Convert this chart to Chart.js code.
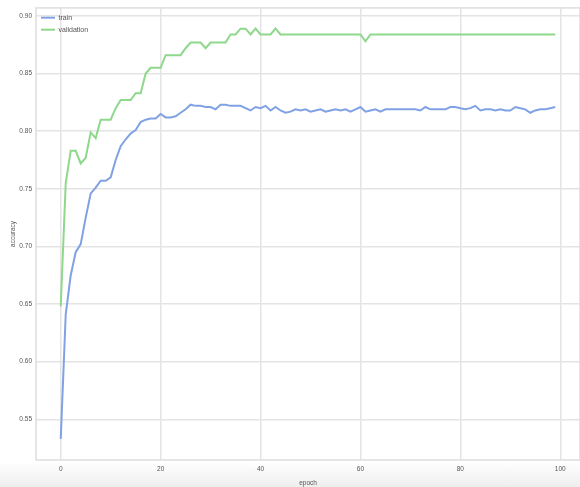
<!DOCTYPE html>
<html>
<head>
    <meta charset="UTF-8">
    <title>accuracy</title>
    <script src="https://cdn.jsdelivr.net/npm/chart.js"></script>
    <style>
        html, body { margin: 0; padding: 0; }
        body { width: 580px; height: 487px; background: linear-gradient(to bottom, #ffffff 0px, #ffffff 462px, #eeeeee 487px); }
        #wrap { width: 580px; height: 487px; position: relative; }
    </style>
</head>
<body>
<div id="wrap"><canvas id="accChart"></canvas></div>
<script>
    // epochs 0..99
    const epochs = Array.from({length: 100}, (_, i) => i);

    const trainAcc = [
        0.533, 0.641, 0.675, 0.695, 0.702, 0.725, 0.746, 0.751, 0.757, 0.757,
        0.760, 0.775, 0.787, 0.793, 0.798, 0.801, 0.808, 0.810, 0.811, 0.811,
        0.815, 0.812, 0.812, 0.813, 0.816, 0.819, 0.823, 0.822, 0.822, 0.821,
        0.821, 0.819, 0.823, 0.823, 0.822, 0.822, 0.822, 0.820, 0.818, 0.821,
        0.820, 0.822, 0.818, 0.821, 0.818, 0.816, 0.817, 0.819, 0.818, 0.819,
        0.817, 0.818, 0.819, 0.817, 0.818, 0.819, 0.818, 0.819, 0.817, 0.819,
        0.821, 0.817, 0.818, 0.819, 0.817, 0.819, 0.819, 0.819, 0.819, 0.819,
        0.819, 0.819, 0.818, 0.821, 0.819, 0.819, 0.819, 0.819, 0.821, 0.821,
        0.820, 0.819, 0.820, 0.822, 0.818, 0.819, 0.819, 0.818, 0.819, 0.818,
        0.818, 0.821, 0.820, 0.819, 0.816, 0.818, 0.819, 0.819, 0.820, 0.821
    ];

    const valAcc = [
        0.648, 0.755, 0.783, 0.783, 0.772, 0.777, 0.799, 0.794, 0.810, 0.810,
        0.810, 0.820, 0.827, 0.827, 0.827, 0.833, 0.833, 0.850, 0.855, 0.855,
        0.855, 0.866, 0.866, 0.866, 0.866, 0.872, 0.877, 0.877, 0.877, 0.872,
        0.877, 0.877, 0.877, 0.877, 0.884, 0.884, 0.889, 0.889, 0.884, 0.889,
        0.884, 0.884, 0.884, 0.889, 0.884, 0.884, 0.884, 0.884, 0.884, 0.884,
        0.884, 0.884, 0.884, 0.884, 0.884, 0.884, 0.884, 0.884, 0.884, 0.884,
        0.884, 0.878, 0.884, 0.884, 0.884, 0.884, 0.884, 0.884, 0.884, 0.884,
        0.884, 0.884, 0.884, 0.884, 0.884, 0.884, 0.884, 0.884, 0.884, 0.884,
        0.884, 0.884, 0.884, 0.884, 0.884, 0.884, 0.884, 0.884, 0.884, 0.884,
        0.884, 0.884, 0.884, 0.884, 0.884, 0.884, 0.884, 0.884, 0.884, 0.884
    ];

    const xTicks = [0, 20, 40, 60, 80, 100];
    const yTicks = [0.55, 0.60, 0.65, 0.70, 0.75, 0.80, 0.85, 0.90];

    const BLUE = 'rgb(128, 162, 228)';
    const GREEN = 'rgb(142, 216, 140)';
    const GRID = '#e4e4e4';
    const TXT = '#555555';
    const FONT = { family: '"Liberation Sans", Arial, sans-serif', size: 6.5 };

    // frame around the plotting area
    const frame = {
        id: 'frame',
        afterDraw(chart) {
            const a = chart.chartArea, ctx = chart.ctx;
            ctx.save();
            ctx.strokeStyle = '#dddddd';
            ctx.lineWidth = 1.5;
            ctx.strokeRect(a.left, a.top, a.right - a.left, a.bottom - a.top);
            ctx.restore();
        }
    };

    function toPoints(values) {
        return values.map((v, i) => ({ x: epochs[i], y: v }));
    }

    new Chart(document.getElementById('accChart'), {
        type: 'line',
        data: {
            datasets: [
                { label: 'train', data: toPoints(trainAcc), borderColor: BLUE, backgroundColor: BLUE,
                  borderWidth: 2, pointRadius: 0, tension: 0 },
                { label: 'validation', data: toPoints(valAcc), borderColor: GREEN, backgroundColor: GREEN,
                  borderWidth: 2, pointRadius: 0, tension: 0 }
            ]
        },
        options: {
            responsive: true,
            maintainAspectRatio: false,
            animation: false,
            layout: { padding: { top: 6, right: 0, left: 0, bottom: 0 } },
            plugins: {
                tooltip: { enabled: false },
                legend: {
                    position: 'chartArea',
                    align: 'start',
                    // blank title only pushes the entries down a little
                    title: { display: true, text: ' ', font: { size: 1 }, padding: { top: 8, bottom: 0 } },
                    labels: {
                        boxWidth: 14,
                        boxHeight: 2,
                        padding: 5,
                        color: TXT,
                        font: { family: FONT.family, size: 7 },
                        generateLabels(chart) {
                            return Chart.defaults.plugins.legend.labels.generateLabels(chart)
                                .map(l => Object.assign(l, { lineWidth: 0 }));
                        }
                    }
                }
            },
            scales: {
                x: {
                    type: 'linear',
                    min: -4.95,
                    max: 103.95,
                    afterBuildTicks(scale) { scale.ticks = xTicks.map(v => ({ value: v })); },
                    afterFit(scale) { scale.height = 27; },
                    grid: { color: GRID, lineWidth: 1.5, drawTicks: false },
                    border: { display: false },
                    ticks: { color: TXT, font: FONT, padding: 5, maxRotation: 0,
                             callback: v => String(v) },
                    title: { display: true, text: 'epoch', color: TXT, font: FONT, padding: { top: 1, bottom: 0 } }
                },
                y: {
                    min: 0.5147,
                    max: 0.907,
                    afterBuildTicks(scale) { scale.ticks = yTicks.map(v => ({ value: v })); },
                    afterFit(scale) { scale.width = 36; },
                    grid: { color: GRID, lineWidth: 1.5, drawTicks: false },
                    border: { display: false },
                    ticks: { color: TXT, font: FONT, padding: 4,
                             callback: v => Number(v).toFixed(2) },
                    title: { display: true, text: 'accuracy', color: TXT, font: FONT, padding: { top: 9, bottom: 0 } }
                }
            }
        },
        plugins: [frame]
    });
</script>
</body>
</html>
